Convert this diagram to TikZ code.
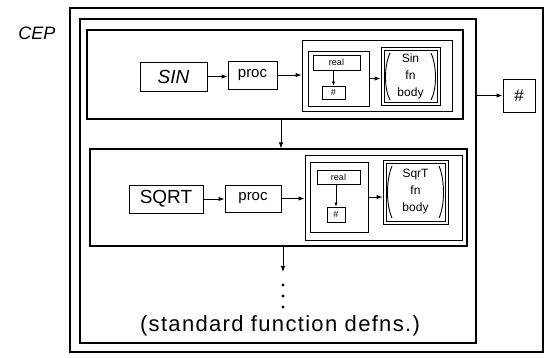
\documentclass[tikz,border=0pt]{standalone}
\usepackage{fontspec}
\setmainfont{Liberation Sans}
\usetikzlibrary{arrows.meta,fit}
\begin{document}
\begin{tikzpicture}[x=1pt,y=-1pt,
  bx/.style={draw, line width=0.9pt, inner sep=0pt},
  thin/.style={draw, line width=0.6pt, inner sep=0pt},
  frm/.style={draw, line width=1.1pt, inner sep=0pt},
  paren/.style={line width=0.9pt},
  arr/.style={-{Latex[length=6pt,width=4.5pt]}, line width=0.9pt},
  sarr/.style={-{Latex[length=4pt,width=3.5pt]}, line width=0.7pt},
  bigf/.style={font=\fontsize{19}{21}\selectfont},
  procf/.style={font=\fontsize{15}{17}\selectfont},
  smallf/.style={font=\fontsize{9}{10}\selectfont},
  bodyf/.style={font=\fontsize{12}{17}\selectfont, align=center, inner sep=0pt},
]
\useasboundingbox (0,0) rectangle (555,358);

% outer frames
\node[frm, fit={(70,8) (543,352)}] (cep) {};
\node[frm, fit={(80,19) (476,343)}] (env) {};
\node[font=\fontsize{18}{20}\selectfont\itshape] (ceplabel) at (37,33) {CEP};

% SIN binding frame
\node[frm, fit={(87,30) (463,119)}] (sinframe) {};
\node[bx, fit={(140,62) (207,91)}] (sin) {};
\node[font=\fontsize{19}{21}\selectfont\itshape] (sint) at (sin.center) {SIN};
\node[bx, fit={(228,61) (277,89)}] (proc1) {};
\node[procf] (proc1t) at (proc1.center) {proc};
\node[bx, fit={(302,40) (452,111)}] (clo1) {};
\node[bx, fit={(308,51) (369,106)}] (left1) {};
\node[bx, fit={(313,55) (360,70)}] (real1) {};
\node[smallf] (real1t) at (real1.center) {real};
\node[bx, fit={(322,86) (345,99)}] (hash1) {};
\node[smallf] (hash1t) at (hash1.center) {\#};
\node[bx, fit={(381,47) (440,105)}] (body1) {};
\node[thin, fit={(384,50) (437,102)}] (body1i) {};
\node[bodyf] (body1t) at (body1.center) {Sin\\fn\\body};
\draw[paren] (390,53) .. controls (384,66) and (384,89) .. (390,100);
\draw[paren] (431,53) .. controls (437,66) and (437,89) .. (431,100);

% SQRT binding frame
\node[frm, fit={(90,149) (467,246)}] (sqrtframe) {};
\node[bx, fit={(129,185) (203,213)}] (sqrt) {};
\node[bigf] (sqrtt) at (sqrt.center) {SQRT};
\node[bx, fit={(225,185) (281,212)}] (proc2) {};
\node[procf] (proc2t) at (proc2.center) {proc};
\node[bx, fit={(305,155) (462,240)}] (clo2) {};
\node[bx, fit={(310,162) (368,232)}] (left2) {};
\node[bx, fit={(317,170) (360,184)}] (real2) {};
\node[smallf] (real2t) at (real2.center) {real};
\node[bx, fit={(327,207) (345,222)}] (hash2) {};
\node[smallf] (hash2t) at (hash2.center) {\#};
\node[bx, fit={(383,160) (448,224)}] (body2) {};
\node[thin, fit={(386,163) (445,221)}] (body2i) {};
\node[bodyf] (body2t) at (body2.center) {SqrT\\fn\\body};
\draw[paren] (392,166) .. controls (386,180) and (386,205) .. (392,218);
\draw[paren] (439,166) .. controls (445,180) and (445,205) .. (439,218);

% hash box at right
\node[bx, fit={(503,79) (535,112)}] (hash) {};
\node[font=\fontsize{17}{19}\selectfont] (hasht) at (hash.center) {\#};

% connectors
\draw[arr] (sin.east) -- (sin.east -| proc1.west);
\draw[arr] (proc1.east) -- (proc1.east -| clo1.west);
\draw[arr] (left1.east) -- (left1.east -| body1.west);
\draw[sarr] (real1.south -| hash1.north) -- (hash1.north);

\draw[arr] (sqrt.east) -- (sqrt.east -| proc2.west);
\draw[arr] (proc2.east) -- (proc2.east -| clo2.west);
\draw[arr] (left2.east) -- (left2.east -| body2.west);
\draw[sarr] (real2.south -| hash2.north) -- (hash2.north);

\draw[arr] (hash.west -| env.east) -- (hash.west);

\coordinate (a1) at (281,119);
\draw[arr] (a1) -- (a1 |- sqrtframe.north);
\coordinate (a2) at (283,246);
\coordinate (a3) at (283,272);
\draw[arr] (a2) -- (a3);
\fill (283,285) circle (1.6pt) (283,296) circle (1.6pt) (283,307) circle (1.6pt);

\node[font=\fontsize{22}{24}\selectfont\addfontfeatures{LetterSpace=6}] (std) at (280,326) {(standard function defns.)};
\end{tikzpicture}
\end{document}
